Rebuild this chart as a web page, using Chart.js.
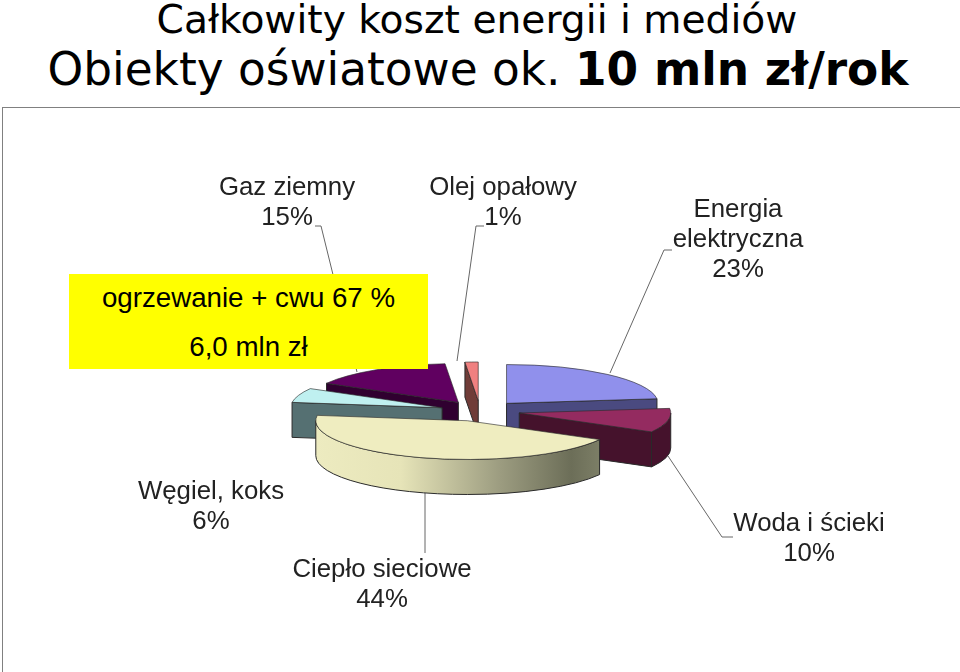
<!DOCTYPE html>
<html lang="pl">
<head>
<meta charset="utf-8">
<title>Całkowity koszt energii i mediów</title>
<script src="https://cdn.jsdelivr.net/npm/chart.js@4/dist/chart.umd.min.js"></script>
<style>
  html, body { margin: 0; padding: 0; background: #fff; }
  #page { position: relative; width: 960px; height: 672px; overflow: hidden; }
  #page canvas { position: absolute; left: 0; top: 0; }
  .title {
    position: absolute; left: 0; width: 960px; text-align: center; white-space: nowrap;
    font-family: "DejaVu Sans", sans-serif; line-height: 50px; color: #000;
  }
  #frame { position: absolute; left: 2px; top: 107px; width: 970px; height: 580px; border: 1px solid #808080; }
  #note {
    position: absolute; left: 69px; top: 274px; width: 359px; height: 95px; background: #ff0;
    font-family: "Liberation Sans", Arial, sans-serif; font-size: 27.7px; color: #000; text-align: center;
  }
  #note div { position: absolute; left: 0; width: 100%; line-height: 30px; }
</style>
</head>
<body>
<div id="page">
  <div class="title" style="top:-5px;left:-3px;font-size:39.2px">Całkowity koszt energii i mediów</div>
  <div class="title" style="top:45px;left:-2px;font-size:45.4px">Obiekty oświatowe ok. <b>10 mln zł/rok</b></div>
  <div id="frame"></div>
  <canvas id="pie" width="960" height="672"></canvas>
  <div id="note">
    <div style="top:9px">ogrzewanie + cwu 67 %</div>
    <div style="top:58px">6,0 mln zł</div>
  </div>
</div>
<script>
// data, clockwise from 12 o'clock (printed labels are these rounded)
const categories = [
  ["Energia", "elektryczna"], ["Woda i ścieki"], ["Ciepło sieciowe"],
  ["Węgiel, koks"], ["Gaz ziemny"], ["Olej opałowy"]
];
const values = [23.1, 10, 44.1, 6, 15.4, 1.4];

// look of the slices
const topColors = ["#9090ec", "#942b60", "#efedc0", "#bff0f0", "#600060", "#f08080"];
const wallColors = ["#4a4a80", "#45122c", "#8a8a70", "#557072", "#300030", "#703c38"];
const drawOrder = [5, 4, 0, 3, 1, 2]; // back to front

// label centre x / first line centre y, then the leader polyline
const labelPlaces = [
  { x: 738, y: 210, line: [[672, 250], [664, 250], [610, 373]] },
  { x: 809, y: 524, line: [[733, 537], [722, 537], [668, 456]] },
  { x: 382, y: 570, line: [[425, 553], [425, 493]] },
  { x: 211, y: 492, line: null },
  { x: 287, y: 188, line: [[315, 226], [321, 226], [357, 372]] },
  { x: 503, y: 188, line: [[484, 226], [476, 226], [457, 361]] }
];

const squash = 0.256;   // tilt of the pie
const pieY = 411;       // centre on the page
const explode = 40;     // how far slices are pulled out
const depth = 35;       // height of the walls

function drawWalls(ctx, arc, i, cx, cy) {
  const r = arc.outerRadius;
  const a0 = arc.startAngle, a1 = arc.endAngle;
  const px = a => cx + r * Math.cos(a);
  const py = a => cy + r * Math.sin(a) * squash;

  ctx.lineWidth = 1;
  ctx.strokeStyle = "#2a2a2a";
  ctx.fillStyle = wallColors[i];

  // flat cut faces, only the ones turned to the viewer
  [[a0, a0 - Math.PI / 2], [a1, a1 + Math.PI / 2]].forEach(([a, normal]) => {
    if (Math.sin(normal) <= 0) return;
    ctx.beginPath();
    ctx.moveTo(cx, cy);
    ctx.lineTo(px(a), py(a));
    ctx.lineTo(px(a), py(a) + depth);
    ctx.lineTo(cx, cy + depth);
    ctx.closePath();
    ctx.fill();
    ctx.stroke();
  });

  // curved face, front half only
  const from = Math.max(a0, 0), to = Math.min(a1, Math.PI);
  if (to > from) {
    if (i === 2) {
      const g = ctx.createLinearGradient(px(to), 0, px(from), 0);
      g.addColorStop(0, "#edebc0");
      g.addColorStop(0.3, "#e6e4b8");
      g.addColorStop(0.65, "#9c9c80");
      g.addColorStop(0.9, "#6c6e58");
      g.addColorStop(1, "#7c7e66");
      ctx.fillStyle = g;
    }
    ctx.beginPath();
    ctx.ellipse(cx, cy, r, r * squash, 0, from, to);
    ctx.ellipse(cx, cy + depth, r, r * squash, 0, to, from, true);
    ctx.closePath();
    ctx.fill();
    ctx.stroke();
  }
}

const tiltedPie = {
  id: "tiltedPie",
  beforeDatasetsDraw(chart) {
    const ctx = chart.ctx;
    // leaders and labels sit under the slices
    ctx.save();
    ctx.strokeStyle = "#666";
    ctx.lineWidth = 1;
    labelPlaces.forEach(p => {
      if (!p.line) return;
      ctx.beginPath();
      p.line.forEach(([x, y], n) => n ? ctx.lineTo(x, y) : ctx.moveTo(x, y));
      ctx.stroke();
    });
    ctx.fillStyle = "#222";
    ctx.font = '25.8px "Liberation Sans", Arial, sans-serif';
    ctx.textAlign = "center";
    ctx.textBaseline = "middle";
    categories.forEach((lines, i) => {
      const p = labelPlaces[i];
      lines.concat(Math.round(values[i]) + "%").forEach((t, n) => ctx.fillText(t, p.x, p.y + n * 30));
    });
    ctx.restore();
  },
  beforeDatasetDraw(chart, args) {
    const ctx = chart.ctx;
    const arcs = chart.getDatasetMeta(args.index).data;
    drawOrder.forEach(i => {
      const arc = arcs[i];
      const mid = (arc.startAngle + arc.endAngle) / 2;
      const cx = arc.x + Math.cos(mid) * explode;
      const cy = pieY + Math.sin(mid) * explode * squash;
      ctx.save();
      drawWalls(ctx, arc, i, cx, cy);
      // top face is the library's own arc, squashed
      ctx.translate(cx, cy);
      ctx.scale(1, squash);
      ctx.translate(-arc.x, -arc.y);
      arc.draw(ctx);
      ctx.restore();
    });
    return false;
  }
};

new Chart(document.getElementById("pie").getContext("2d"), {
  type: "pie",
  data: {
    labels: categories.map(c => c.join(" ")),
    datasets: [{
      data: values,
      backgroundColor: topColors,
      borderColor: "#2a2a2a",
      borderWidth: 1
    }]
  },
  options: {
    responsive: false,
    animation: false,
    events: [],
    layout: { padding: { left: 328, right: 328, top: 184, bottom: 184 } },
    plugins: { legend: { display: false }, tooltip: { enabled: false } }
  },
  plugins: [tiltedPie]
});
</script>
</body>
</html>
